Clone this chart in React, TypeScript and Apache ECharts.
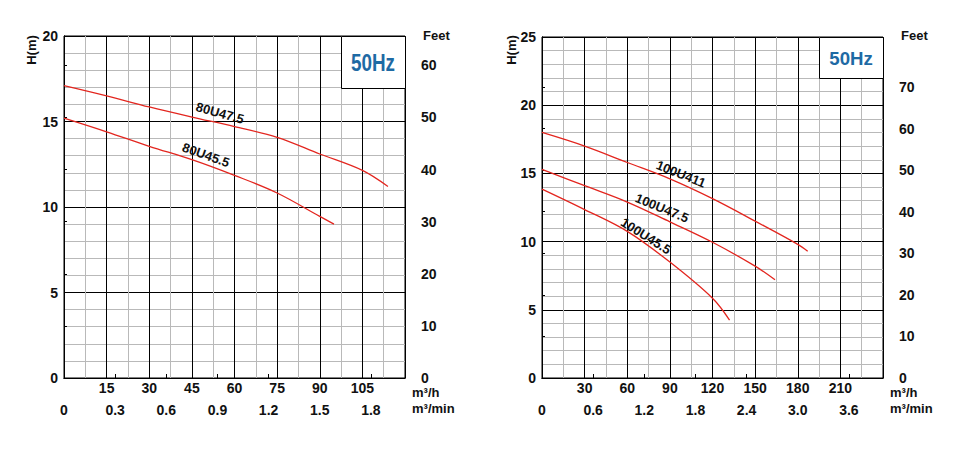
import React, { useEffect, useRef } from "react";
import * as echarts from "echarts";

// ---------- data ----------
const FT_PER_M = 1 / 0.3048;

// Left chart (80U series), flow m³/h, head m
const flow80U475 = [0, 15, 30, 45, 60, 75, 90, 105, 114];
const head80U475 = [17.1, 16.5, 15.85, 15.26, 14.7, 14.07, 13.1, 12.14, 11.2];
const flow80U455 = [0, 15, 30, 45, 60, 75, 90, 95];
const head80U455 = [15.2, 14.4, 13.55, 12.77, 11.85, 10.82, 9.45, 9.0];

// Right chart (100U series)
const flow100U411 = [0, 30, 60, 90, 120, 150, 180, 187];
const head100U411 = [18.0, 17.0, 15.8, 14.6, 13.15, 11.5, 9.8, 9.3];
const flow100U475 = [0, 30, 60, 90, 120, 150, 164];
const head100U475 = [15.3, 14.1, 12.9, 11.45, 9.95, 8.2, 7.2];
const flow100U455 = [0, 30, 60, 90, 120, 132];
const head100U455 = [13.85, 12.35, 10.75, 8.5, 5.85, 4.25];

// axis ranges and tick labels
const leftFlowMax = 120; // m³/h
const leftFlowStep = 15;
const leftMinMax = 2.0; // m³/min
const leftMinTicks = [0, 0.3, 0.6, 0.9, 1.2, 1.5, 1.8];
const leftHeadMax = 20;
const leftFeetTicks = [0, 10, 20, 30, 40, 50, 60];
const rightFlowMax = 240;
const rightFlowStep = 30;
const rightMinMax = 4.0;
const rightMinTicks = [0, 0.6, 1.2, 1.8, 2.4, 3.0, 3.6];
const rightHeadMax = 25;
const rightFeetTicks = [0, 10, 20, 30, 40, 50, 60, 70];
const headStep = 5;

const curveNames = ["80U47.5", "80U45.5", "100U411", "100U47.5", "100U45.5"];

// ---------- styling ----------
const FONT = '"Liberation Sans", Arial, Helvetica, sans-serif';
const RED = "#e3261f";
const MINOR = "#b9b9b9";
const BLUE = "#1e6aa4";

const pairs = (xs: number[], ys: number[]) => xs.map((x, i) => [x, ys[i]]);

const labelStyle = {
  color: "#111",
  fontSize: 14,
  fontWeight: "bold" as const,
  fontFamily: FONT,
};

function mainX(grid: number, max: number, step: number) {
  return {
    gridIndex: grid,
    type: "value",
    min: 0,
    max,
    interval: step,
    axisLine: { show: true, lineStyle: { color: "#000", width: 1 } },
    axisTick: { show: false },
    axisLabel: { ...labelStyle, margin: 3, showMinLabel: false, showMaxLabel: false },
    splitLine: { show: true, lineStyle: { color: "#000", width: 1 } },
    minorTick: { show: false, splitNumber: 2 },
    minorSplitLine: { show: true, lineStyle: { color: MINOR, width: 1 } },
  };
}

function minX(grid: number, max: number, ticks: number[]) {
  return {
    gridIndex: grid,
    type: "value",
    position: "bottom",
    offset: 19,
    min: 0,
    max,
    axisLine: { show: true, lineStyle: { color: "#000", width: 1 } },
    axisTick: { show: true, inside: true, length: 4, customValues: ticks, lineStyle: { color: "#000" } },
    axisLabel: {
      ...labelStyle,
      margin: 6,
      customValues: ticks,
      formatter: (v: number) => (v === 0 ? "0" : v.toFixed(1)),
    },
    splitLine: { show: false },
  };
}

function mainY(grid: number, max: number) {
  return {
    gridIndex: grid,
    type: "value",
    min: 0,
    max,
    interval: headStep,
    axisLine: { show: true, lineStyle: { color: "#000", width: 1 } },
    axisTick: { show: false },
    axisLabel: { ...labelStyle, margin: 6 },
    splitLine: { show: true, lineStyle: { color: "#000", width: 1 } },
    minorTick: { show: false, splitNumber: 5 },
    minorSplitLine: { show: true, lineStyle: { color: MINOR, width: 1 } },
  };
}

function feetY(grid: number, maxM: number, ticks: number[]) {
  return {
    gridIndex: grid,
    type: "value",
    position: "right",
    offset: 10,
    min: 0,
    max: maxM * FT_PER_M,
    axisLine: { show: true, lineStyle: { color: "#000", width: 1 } },
    axisTick: { show: true, length: 3, customValues: ticks, lineStyle: { color: "#000" } },
    axisLabel: { ...labelStyle, margin: 6, customValues: ticks },
    splitLine: { show: false },
  };
}

function curve(name: string, xi: number, data: number[][]) {
  return {
    name,
    type: "line",
    xAxisIndex: xi,
    yAxisIndex: xi,
    data,
    smooth: 0.35,
    symbol: "none",
    lineStyle: { color: RED, width: 1.3 },
  };
}

function txt(text: string, x: number, y: number, opts: any = {}) {
  return {
    type: "text",
    x,
    y,
    z: 100,
    rotation: opts.rotation || 0,
    scaleX: opts.scaleX || 1,
    style: {
      text,
      fill: opts.fill || "#111",
      fontSize: opts.fontSize || 14,
      fontWeight: opts.fontWeight || "bold",
      fontFamily: opts.fontFamily || FONT,
      align: opts.align || "left",
      verticalAlign: "middle",
    },
  };
}

export default function App() {
  const ref = useRef<HTMLDivElement>(null);

  useEffect(() => {
    document.body.style.margin = "0";
    if (!ref.current) return;
    const chart = echarts.init(ref.current, undefined, { renderer: "svg" });

    const option: any = {
      animation: false,
      backgroundColor: "#fff",
      grid: [
        { left: 64, top: 36, width: 341, height: 342, show: true, borderColor: "#000", borderWidth: 1, backgroundColor: "transparent" },
        { left: 542, top: 37, width: 341, height: 341, show: true, borderColor: "#000", borderWidth: 1, backgroundColor: "transparent" },
      ],
      xAxis: [
        mainX(0, leftFlowMax, leftFlowStep),
        minX(0, leftMinMax, leftMinTicks),
        mainX(1, rightFlowMax, rightFlowStep),
        minX(1, rightMinMax, rightMinTicks),
      ],
      yAxis: [
        mainY(0, leftHeadMax),
        feetY(0, leftHeadMax, leftFeetTicks),
        mainY(1, rightHeadMax),
        feetY(1, rightHeadMax, rightFeetTicks),
      ],
      series: [
        curve(curveNames[0], 0, pairs(flow80U475, head80U475)),
        curve(curveNames[1], 0, pairs(flow80U455, head80U455)),
        curve(curveNames[2], 2, pairs(flow100U411, head100U411)),
        curve(curveNames[3], 2, pairs(flow100U475, head100U475)),
        curve(curveNames[4], 2, pairs(flow100U455, head100U455)),
      ],
      graphic: [
        // 50Hz boxes
        { type: "rect", z: 99, shape: { x: 341.5, y: 36.5, width: 64, height: 52 }, style: { fill: "#fff", stroke: "#000", lineWidth: 1 } },
        { type: "rect", z: 99, shape: { x: 819.5, y: 37.5, width: 64, height: 41 }, style: { fill: "#fff", stroke: "#000", lineWidth: 1 } },
        txt("50Hz", 373, 63, { align: "center", fill: BLUE, fontSize: 23, scaleX: 0.82 }),
        txt("50Hz", 851, 58, { align: "center", fill: BLUE, fontSize: 19, scaleX: 0.98 }),
        // axis titles
        txt("H(m)", 31, 50, { align: "center", rotation: Math.PI / 2, fontSize: 13 }),
        txt("H(m)", 511, 50, { align: "center", rotation: Math.PI / 2, fontSize: 13 }),
        txt("Feet", 423, 35, { fontSize: 13 }),
        txt("Feet", 901, 35, { fontSize: 13 }),
        txt("m³/h", 412, 392, { fontSize: 13 }),
        txt("m³/min", 412, 408, { fontSize: 13 }),
        txt("m³/h", 890, 392, { fontSize: 13 }),
        txt("m³/min", 890, 408, { fontSize: 13 }),
        // curve labels
        txt(curveNames[0], 220, 113, { align: "center", rotation: -0.27, fontSize: 13 }),
        txt(curveNames[1], 206, 155, { align: "center", rotation: -0.34, fontSize: 13 }),
        txt(curveNames[2], 681, 174, { align: "center", rotation: -0.38, fontSize: 13 }),
        txt(curveNames[3], 662, 208, { align: "center", rotation: -0.39, fontSize: 13 }),
        txt(curveNames[4], 646, 236, { align: "center", rotation: -0.56, fontSize: 13 }),
      ],
    };

    chart.setOption(option);
    return () => chart.dispose();
  }, []);

  return <div ref={ref} style={{ width: 973, height: 465 }} />;
}
